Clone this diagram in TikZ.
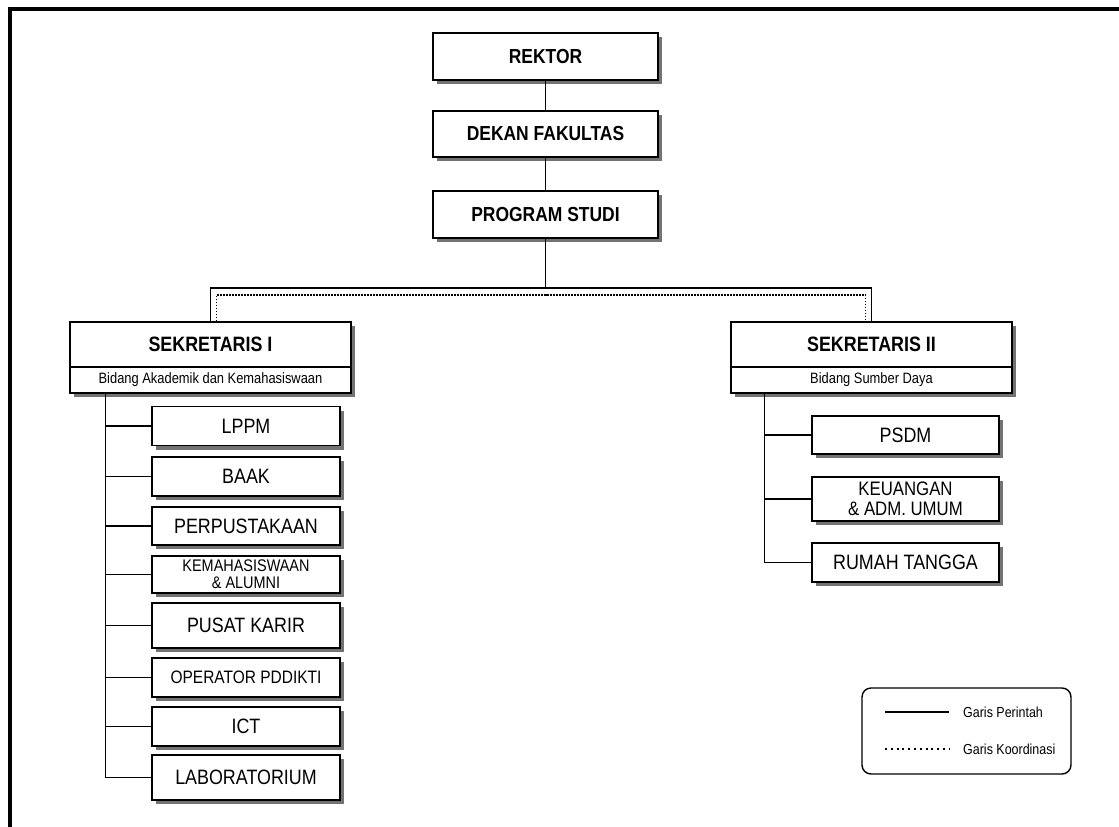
\documentclass[tikz,border=0pt]{standalone}
\usepackage{fontspec}
\setmainfont{Liberation Sans}[FakeStretch=0.86]
\usetikzlibrary{shadows}
\begin{document}
\begin{tikzpicture}[x=1pt,y=-1pt,
  box/.style={draw=black, line width=1.5pt, fill=white, inner sep=0pt, align=center,
    drop shadow={shadow xshift=4pt, shadow yshift=-4pt, fill=black!55, opacity=1}},
  topbox/.style={box, minimum width=225pt, minimum height=47pt,
    font=\bfseries\fontsize{20.3}{23}\selectfont},
  sekhead/.style={box, minimum width=281pt, minimum height=45pt,
    font=\bfseries\fontsize{20.8}{23}\selectfont},
  seksub/.style={box, minimum width=281pt, minimum height=26pt,
    font=\fontsize{15}{17}\selectfont},
  lchild/.style={box, minimum width=188pt, font=\fontsize{20.8}{23}\selectfont},
  rchild/.style={box, minimum width=187pt, font=\fontsize{20.8}{23}\selectfont},
  conn/.style={draw=black, line width=1.2pt},
  coordline/.style={draw=black, line width=1.3pt, dash pattern=on 1.3pt off 1.7pt},
  legdot/.style={draw=black, line width=1.3pt, dash pattern=on 2pt off 3.8pt},
  legtext/.style={anchor=west, inner sep=0pt, font=\fontsize{14.5}{16}\selectfont}
]
\useasboundingbox (0,0) rectangle (1119,827);
% frame
\coordinate (fa) at (10,827);
\coordinate (fb) at (10,9);
\coordinate (fc) at (1119,9);
\draw[line width=4pt] (fa) -- (fb) -- (fc);

% top chain
\node[topbox] (rektor) at (545.5,56.5) {REKTOR};
\node[topbox, minimum height=46pt] (dekan) at (545.5,134) {DEKAN FAKULTAS};
\node[topbox] (prodi) at (545.5,214.5) {PROGRAM STUDI};

% sekretaris boxes
\node[sekhead] (s1a) at (210.5,344.5) {SEKRETARIS I};
\node[seksub] (s1b) at (210.5,380) {Bidang Akademik dan Kemahasiswaan};
\node[sekhead] (s2a) at (871.5,344.5) {SEKRETARIS II};
\node[seksub] (s2b) at (871.5,380) {Bidang Sumber Daya};

% left children
\node[lchild, minimum height=39pt] (lppm) at (246,426) {LPPM};
\node[lchild, minimum height=39pt] (baak) at (246,476.5) {BAAK};
\node[lchild, minimum height=38pt] (perp) at (246,526) {PERPUSTAKAAN};
\node[lchild, minimum height=37pt, font=\fontsize{16.8}{17}\selectfont] (kem) at (246,574.5) {KEMAHASISWAAN\\\& ALUMNI};
\node[lchild, minimum height=45pt] (pusat) at (246,625.5) {PUSAT KARIR};
\node[lchild, minimum height=39pt, font=\fontsize{18}{20}\selectfont] (oper) at (246,677.5) {OPERATOR PDDIKTI};
\node[lchild, minimum height=39pt] (ict) at (246,726.5) {ICT};
\node[lchild, minimum height=45pt] (lab) at (246,777.5) {LABORATORIUM};

% right children
\node[rchild, minimum height=38pt] (psdm) at (905.5,435) {PSDM};
\node[rchild, minimum height=44pt, font=\fontsize{19.5}{19.5}\selectfont] (keu) at (905.5,499) {KEUANGAN\\\& ADM. UMUM};
\node[rchild, minimum height=39pt] (rumah) at (905.5,562.5) {RUMAH TANGGA};

% connectors top
\draw[conn] (rektor) -- (dekan);
\draw[conn] (dekan) -- (prodi);
\coordinate (bus) at (545.5,288);
\draw[conn] (prodi.south) -- (bus);
\draw[conn] (s1a.north) |- (bus) -| (s2a.north);
\draw[coordline] ([xshift=6pt]s1a.north) |- ([yshift=-7pt]bus) -| ([xshift=-6pt]s2a.north);

% left tree
\coordinate (l1) at ([xshift=36pt]s1b.south west);
\draw[conn] (l1) |- (lab.west);
\foreach \c in {lppm,baak,perp,kem,pusat,oper,ict}
  \draw[conn] (l1 |- \c.west) -- (\c.west);

% right tree
\coordinate (r1) at ([xshift=34.5pt]s2b.south west);
\draw[conn] (r1) |- (rumah.west);
\foreach \c in {psdm,keu}
  \draw[conn] (r1 |- \c.west) -- (\c.west);

% legend
\node[draw=black, line width=1.4pt, rounded corners=9pt, minimum width=209pt, minimum height=86pt, inner sep=0pt] (leg) at (966.5,731) {};
\coordinate (ls1) at (885,712);
\coordinate (le1) at (949,712);
\coordinate (ls2) at (885,749);
\coordinate (le2) at (949,749);
\draw[conn] (ls1) -- (le1);
\draw[legdot] (ls2) -- (le2);
\node[legtext] (lt1) at (963,712) {Garis Perintah};
\node[legtext] (lt2) at (963,749) {Garis Koordinasi};
\end{tikzpicture}
\end{document}
